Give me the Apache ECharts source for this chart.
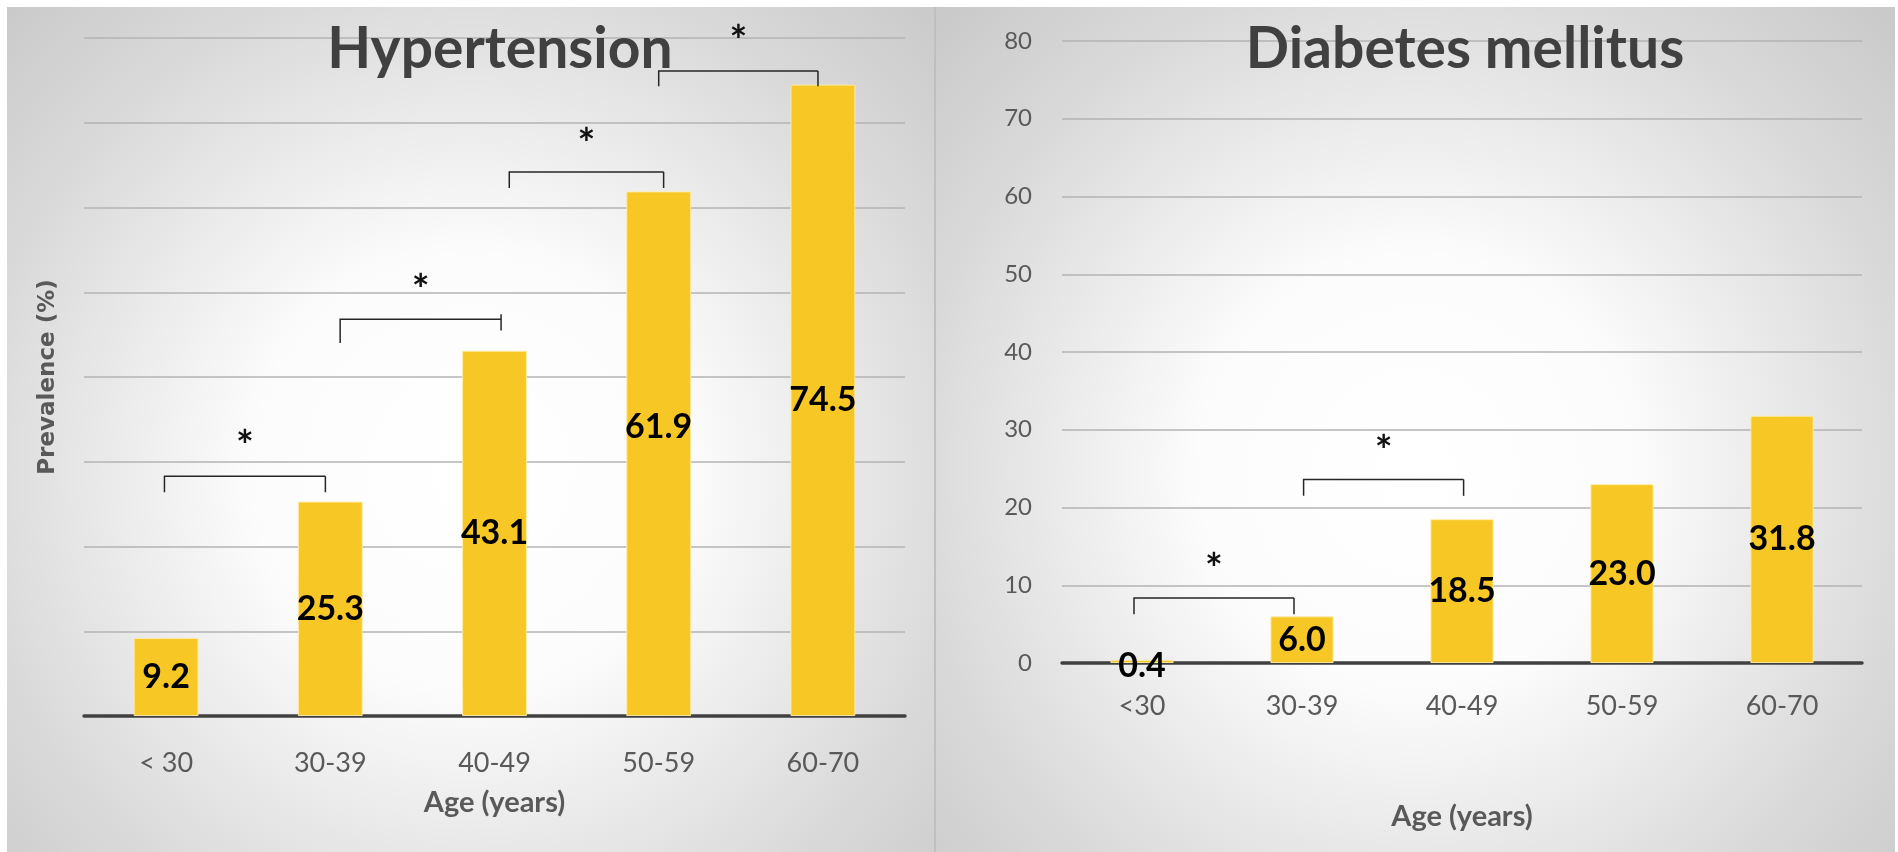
<!DOCTYPE html>
<html>
<head>
<meta charset="utf-8">
<script src="https://cdn.jsdelivr.net/npm/echarts@6/dist/echarts.min.js"></script>
<style>
  html, body { margin: 0; padding: 0; background: #ffffff; }
  #chart { width: 1898px; height: 852px; }
</style>
</head>
<body>
<div id="chart"></div>
<script>
// Age groups
const hypCategories = ['< 30', '30-39', '40-49', '50-59', '60-70'];
const dmCategories = ['<30', '30-39', '40-49', '50-59', '60-70'];

// Prevalence (%) by age group
const hypertension = [9.2, 25.3, 43.1, 61.9, 74.5];
const diabetes = [0.4, 6.0, 18.5, 23.0, 31.8];

// Value-axis ticks
const yTicks = [0, 10, 20, 30, 40, 50, 60, 70, 80];

// Significance brackets, in axis units:
// [from category, to category, bar level, left foot, right foot, right top, star level]
const hypBrackets = [
  [-0.01, 0.97, 28.3, 26.4, 26.4, 28.3, 32.7],
  [1.06, 2.04, 46.8, 44.0, 45.5, 47.4, 51.2],
  [2.09, 3.03, 64.2, 62.3, 62.3, 64.2, 68.4],
  [3.00, 3.97, 76.1, 74.3, 74.3, 76.1, 80.5]
];
const dmBrackets = [
  [-0.05, 0.95, 8.37, 6.27, 6.27, 8.37, 13.0],
  [1.01, 2.01, 23.6, 21.5, 21.5, 23.6, 28.2]
];

const chart = echarts.init(document.getElementById('chart'), null, { renderer: 'canvas' });

const textGrey = '#595959';
const barColor = '#f7c825';

function panelBackground(x, y, w, h) {
  return {
    type: 'rect', z: -10, silent: true,
    shape: { x: x, y: y, width: w, height: h },
    style: {
      fill: {
        type: 'radial', x: 0.5, y: 0.55, r: 0.85,
        colorStops: [
          { offset: 0, color: '#ffffff' },
          { offset: 0.3, color: '#fcfcfc' },
          { offset: 0.7, color: '#d9d9d9' },
          { offset: 1, color: '#c4c4c4' }
        ]
      }
    }
  };
}

function bracketSeries(axisIdx, brackets) {
  return {
    type: 'custom',
    xAxisIndex: axisIdx, yAxisIndex: axisIdx,
    z: 6, silent: true, clip: false,
    data: brackets.map(b => [Math.round(b[0]), b[2]]),
    renderItem: function (params, api) {
      const b = brackets[params.dataIndex];
      const band = api.size([1, 0])[0];
      const base = api.coord([0, 0])[0];
      const px = v => base + v * band;
      const py = v => api.coord([0, v])[1];
      const x0 = px(b[0]), x1 = px(b[1]);
      const y = py(b[2]);
      const stroke = { stroke: '#262626', lineWidth: 1.5, fill: null };
      return {
        type: 'group',
        children: [
          { type: 'polyline', shape: { points: [[x0, py(b[3])], [x0, y], [x1, y]] }, style: stroke },
          { type: 'line', shape: { x1: x1, y1: py(b[5]), x2: x1, y2: py(b[4]) }, style: stroke },
          {
            type: 'text', x: (x0 + x1) / 2, y: py(b[6]) + 9,
            style: { text: '*', font: 'bold 42px Lato', fill: '#111111', align: 'center', verticalAlign: 'middle' }
          }
        ]
      };
    }
  };
}

const barLabel = {
  show: true,
  position: 'inside',
  color: '#000000',
  fontFamily: 'Lato',
  fontWeight: 'bold',
  fontSize: 34,
  formatter: p => p.value.toFixed(1)
};

function valueAxis(gridIdx, showLabels) {
  return {
    type: 'value', gridIndex: gridIdx,
    min: yTicks[0], max: yTicks[yTicks.length - 1], interval: yTicks[1] - yTicks[0],
    axisLine: { show: false }, axisTick: { show: false },
    axisLabel: { show: showLabels, color: textGrey, fontFamily: 'Lato', fontSize: 24, margin: 30 },
    splitLine: { show: true, lineStyle: { color: '#b3b3b3', width: 1.5 } }
  };
}

function categoryAxis(gridIdx, cats, labelMargin, nameGap) {
  return {
    type: 'category', gridIndex: gridIdx, data: cats,
    axisLine: { show: true, lineStyle: { color: '#404040', width: 3.5 } },
    axisTick: { show: false },
    axisLabel: { color: textGrey, fontFamily: 'Lato', fontSize: 27, margin: labelMargin },
    name: 'Age (years)', nameLocation: 'middle', nameGap: nameGap,
    nameTextStyle: { color: textGrey, fontFamily: 'Lato', fontWeight: 'bold', fontSize: 29 }
  };
}

const option = {
  animation: false,
  backgroundColor: '#ffffff',
  graphic: [
    panelBackground(7, 7, 927, 845),
    panelBackground(936, 7, 959, 845),
    { type: 'rect', z: -9, silent: true, shape: { x: 934, y: 7, width: 2, height: 845 }, style: { fill: '#bfbfbf' } },
    {
      type: 'text', z: 10, x: 500, y: 50, silent: true,
      style: { text: 'Hypertension', font: 'bold 57px Lato', fill: '#404040', align: 'center', verticalAlign: 'middle' }
    },
    {
      type: 'text', z: 10, x: 1465, y: 50, silent: true,
      style: { text: 'Diabetes mellitus', font: 'bold 57px Lato', fill: '#404040', align: 'center', verticalAlign: 'middle' }
    }
  ],
  grid: [
    { left: 84, right: 993, top: 38, bottom: 136 },
    { left: 1062, right: 36, top: 41, bottom: 189 }
  ],
  xAxis: [
    categoryAxis(0, hypCategories, 34, 72),
    categoryAxis(1, dmCategories, 30, 139)
  ],
  yAxis: [
    Object.assign(valueAxis(0, false), {
      name: 'Prevalence (%)', nameLocation: 'middle', nameGap: 24,
      nameTextStyle: { color: textGrey, fontFamily: 'DejaVu Sans', fontWeight: 'bold', fontSize: 23 }
    }),
    valueAxis(1, true)
  ],
  series: [
    {
      type: 'bar', xAxisIndex: 0, yAxisIndex: 0, barWidth: '39.5%', z: 3,
      data: hypertension.map((v, i) => i === 3 ? { value: v, label: { offset: [0, -27] } } : v),
      itemStyle: { color: barColor, borderColor: 'rgba(255,236,170,0.9)', borderWidth: 1 },
      label: barLabel
    },
    {
      type: 'bar', xAxisIndex: 1, yAxisIndex: 1, barWidth: '39.5%', z: 3,
      data: diabetes.map((v, i) => i === 0 ? { value: v, label: { offset: [0, 5] } } : v),
      itemStyle: { color: barColor, borderColor: 'rgba(255,236,170,0.9)', borderWidth: 1 },
      label: barLabel
    },
    bracketSeries(0, hypBrackets),
    bracketSeries(1, dmBrackets)
  ]
};

chart.setOption(option);
</script>
</body>
</html>
